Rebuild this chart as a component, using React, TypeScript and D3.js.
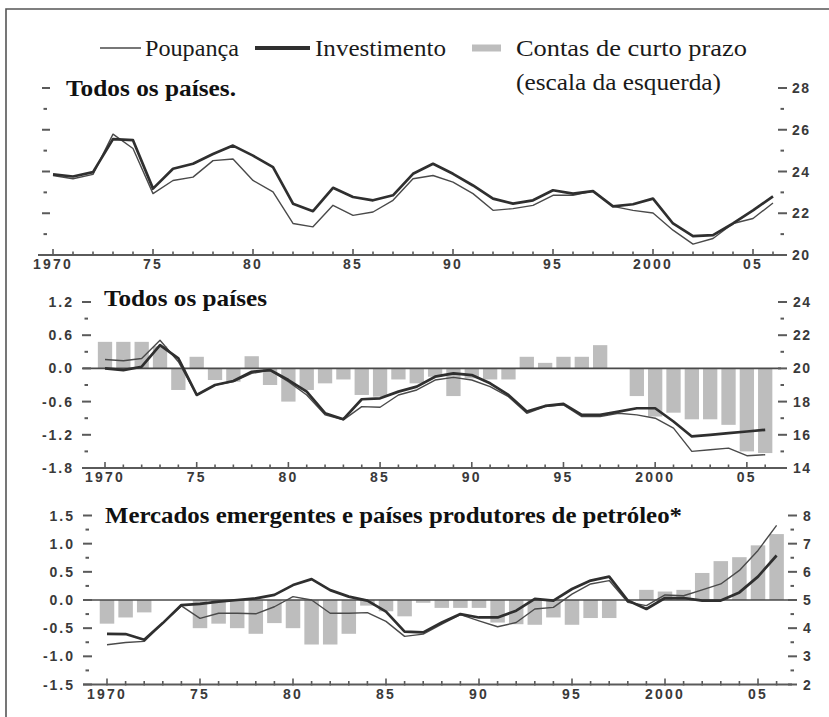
import React from 'react';
import * as d3 from 'd3';

// ---------- data ----------
const years = [1970, 1971, 1972, 1973, 1974, 1975, 1976, 1977, 1978, 1979, 1980, 1981, 1982, 1983, 1984, 1985, 1986, 1987, 1988, 1989, 1990, 1991, 1992, 1993, 1994, 1995, 1996, 1997, 1998, 1999, 2000, 2001, 2002, 2003, 2004, 2005, 2006];
const xTickYears = [1970, 1975, 1980, 1985, 1990, 1995, 2000, 2005];
const xTickLabels = ['1970', '75', '80', '85', '90', '95', '2000', '05'];

// Panel 1: Todos os países. (right scale, % of GDP)
const p1Invest = [23.86, 23.76, 23.97, 25.55, 25.5, 23.18, 24.13, 24.37, 24.84, 25.24, 24.76, 24.21, 22.46, 22.10, 23.22, 22.78, 22.62, 22.86, 23.89, 24.37, 23.89, 23.33, 22.70, 22.46, 22.62, 23.10, 22.94, 23.06, 22.33, 22.43, 22.70, 21.51, 20.90, 20.95, 21.51, 22.14, 22.81];
const p1Saving = [23.81, 23.65, 23.86, 25.79, 25.1, 22.94, 23.57, 23.73, 24.52, 24.60, 23.57, 23.02, 21.51, 21.35, 22.38, 21.90, 22.06, 22.62, 23.65, 23.81, 23.49, 22.94, 22.14, 22.22, 22.38, 22.86, 22.86, 23.06, 22.33, 22.14, 22.01, 21.19, 20.52, 20.79, 21.51, 21.75, 22.49];

// Panel 2: Todos os países (bars left scale, lines right scale)
const p2Bars = [0.48, 0.48, 0.48, 0.40, -0.39, 0.21, -0.21, -0.24, 0.22, -0.30, -0.60, -0.39, -0.27, -0.20, -0.48, -0.51, -0.20, -0.27, -0.15, -0.50, -0.18, -0.20, -0.20, 0.21, 0.10, 0.21, 0.21, 0.42, 0, -0.50, -0.87, -0.80, -0.92, -0.92, -1.02, -1.50, -1.53];
const p2Invest = [20.0, 19.9, 20.1, 21.4, 20.6, 18.4, 19.0, 19.24, 19.8, 19.9, 19.3, 18.6, 17.3, 16.94, 18.14, 18.2, 18.6, 18.9, 19.5, 19.7, 19.6, 19.1, 18.4, 17.4, 17.74, 17.86, 17.2, 17.2, 17.4, 17.6, 17.6, 16.8, 15.9, 16.0, 16.1, 16.2, 16.3];
const p2Saving = [20.54, 20.46, 20.6, 21.7, 20.4, 18.4, 19.0, 19.2, 19.7, 19.9, 19.2, 18.4, 17.2, 16.9, 17.7, 17.66, 18.4, 18.7, 19.3, 19.46, 19.3, 18.9, 18.3, 17.3, 17.7, 17.8, 17.1, 17.1, 17.3, 17.2, 17.0, 16.4, 15.0, 15.1, 15.2, 14.74, 14.8];

// Panel 3: Mercados emergentes e países produtores de petróleo*
const p3Bars = [-0.42, -0.31, -0.22, 0, 0, -0.50, -0.42, -0.50, -0.60, -0.41, -0.50, -0.79, -0.79, -0.60, -0.10, -0.20, -0.29, -0.05, -0.14, -0.14, -0.14, -0.40, -0.43, -0.44, -0.31, -0.44, -0.32, -0.32, 0, 0.18, 0.15, 0.18, 0.48, 0.69, 0.76, 0.97, 1.17];
const p3Invest = [3.80, 3.79, 3.59, 4.18, 4.82, 4.86, 4.94, 5.00, 5.06, 5.18, 5.53, 5.74, 5.35, 5.12, 4.98, 4.59, 3.88, 3.85, 4.2, 4.5, 4.38, 4.38, 4.62, 5.04, 4.98, 5.39, 5.69, 5.83, 4.98, 4.68, 5.07, 5.07, 4.98, 4.98, 5.27, 5.83, 6.58];
const p3Saving = [3.41, 3.49, 3.53, 4.18, 4.79, 4.35, 4.53, 4.53, 4.51, 4.76, 5.12, 5.0, 4.53, 4.53, 4.55, 4.24, 3.71, 3.79, 4.14, 4.48, 4.26, 4.05, 4.2, 4.68, 4.74, 5.21, 5.57, 5.69, 4.92, 4.8, 5.18, 5.15, 5.36, 5.57, 6.05, 6.76, 7.65];

// axis tick labels
const p1RightMajor = [20, 22, 24, 26, 28];
const p1RightLabels = ['20', '22', '24', '26', '28'];
const p2LeftMajor = [-1.8, -1.2, -0.6, 0, 0.6, 1.2];
const p2LeftLabels = ['-1.8', '-1.2', '-0.6', '0.0', '0.6', '1.2'];
const p2RightMajor = [14, 16, 18, 20, 22, 24];
const p2RightLabels = ['14', '16', '18', '20', '22', '24'];
const p3LeftMajor = [-1.5, -1.0, -0.5, 0, 0.5, 1.0, 1.5];
const p3LeftLabels = ['-1.5', '-1.0', '-0.5', '0.0', '0.5', '1.0', '1.5'];
const p3RightMajor = [2, 3, 4, 5, 6, 7, 8];
const p3RightLabels = ['2', '3', '4', '5', '6', '7', '8'];

const titles = ['Todos os países.', 'Todos os países', 'Mercados emergentes e países produtores de petróleo*'];

// ---------- style ----------
const SERIF = '"Liberation Serif", "DejaVu Serif", serif';
const SANS = '"Liberation Sans", Arial, sans-serif';
const AXIS = '#5a5a5a';
const LBL = '#3a3a3a';
const BAR = '#bdbdbd';
const INV = '#2f2f2f';
const SAV = '#4a4a4a';

type Layout = {
  x0: number; x1: number; axisY: number; axisXL: number; axisXR: number;
  yTop: number; rightDomain: [number, number]; leftDomain?: [number, number];
  leftTickX: number; leftLabelX?: number; rightTickX: number; rightLabelX: number;
  xLabelY: number; title: { x: number; y: number; len: number };
  minorRightStep: number; minorLeftStep?: number; zeroXL?: number; zeroXR?: number;
};

function Panel({ L, invest, saving, bars, rMajor, rLabels, lMajor, lLabels, title }: any) {
  const lay: Layout = L;
  const x = d3.scaleLinear().domain([1970, 2006]).range([lay.x0, lay.x1]);
  const yR = d3.scaleLinear().domain(lay.rightDomain).range([lay.axisY, lay.yTop]);
  const yL = lay.leftDomain ? d3.scaleLinear().domain(lay.leftDomain).range([lay.axisY, lay.yTop]) : null;
  const lineGen = d3.line<number>().x((_, i) => x(years[i])).y((v) => yR(v));
  const step = x(1971) - x(1970);
  const bw = step * 0.78;

  const rMinor = d3.range(lay.rightDomain[0], lay.rightDomain[1] + 1e-9, lay.minorRightStep);
  const lMinor = yL && lay.minorLeftStep ? d3.range(lay.leftDomain![0], lay.leftDomain![1] + 1e-9, lay.minorLeftStep) : [];

  return (
    <g>
      {/* bars */}
      {yL && bars && bars.map((v: number, i: number) => (
        v === 0 ? null :
        <rect key={'b' + i} x={x(years[i]) - bw / 2} y={yL(Math.max(0, v))} width={bw}
          height={Math.abs(yL(v) - yL(0))} fill={BAR} />
      ))}
      {/* zero line */}
      {yL && <line x1={lay.zeroXL} x2={lay.zeroXR} y1={yL(0)} y2={yL(0)} stroke="#4a4a4a" strokeWidth={1.6} />}
      {/* x axis */}
      <line x1={lay.axisXL} x2={lay.axisXR} y1={lay.axisY} y2={lay.axisY} stroke={AXIS} strokeWidth={2} />
      {years.map((yr) => {
        const major = xTickYears.includes(yr);
        return <line key={'t' + yr} x1={x(yr)} x2={x(yr)} y1={lay.axisY - (major ? 6 : 3.5)} y2={lay.axisY + 1}
          stroke={AXIS} strokeWidth={1.6} />;
      })}
      {xTickYears.map((yr, i) => (
        <text key={'xl' + yr} x={x(yr)} y={lay.xLabelY} textAnchor="middle" fontFamily={SANS} fontWeight="bold"
          fontSize={14} letterSpacing={2.2} fill={LBL}>{xTickLabels[i]}</text>
      ))}
      {/* right axis */}
      {rMinor.map((v: number) => {
        const major = rMajor.some((m: number) => Math.abs(m - v) < 1e-6);
        return <line key={'rm' + v} x1={lay.rightTickX + (major ? 0 : 2.5)} x2={lay.rightTickX + (major ? 9 : 6)}
          y1={yR(v)} y2={yR(v)} stroke={AXIS} strokeWidth={2} />;
      })}
      {rMajor.map((v: number, i: number) => (
        <text key={'rl' + v} x={lay.rightLabelX} y={yR(v) + 5} fontFamily={SANS} fontWeight="bold" fontSize={14}
          letterSpacing={1.5} fill={LBL}>{rLabels[i]}</text>
      ))}
      {/* left axis */}
      {!yL && rMinor.map((v: number) => {
        const major = Math.round(v) % 2 === 0;
        return <line key={'lm' + v} x1={lay.leftTickX + (major ? 0 : 1.5)} x2={lay.leftTickX + (major ? 8 : 5)}
          y1={yR(v)} y2={yR(v)} stroke={AXIS} strokeWidth={2} />;
      })}
      {yL && lMinor.map((v: number) => {
        const major = lMajor.some((m: number) => Math.abs(m - v) < 1e-6);
        return <line key={'lm' + v} x1={lay.leftTickX + (major ? 0 : 2.5)} x2={lay.leftTickX + (major ? 9 : 6)}
          y1={yL(v)} y2={yL(v)} stroke={AXIS} strokeWidth={2} />;
      })}
      {yL && lMajor.map((v: number, i: number) => (
        <text key={'ll' + v} x={lay.leftLabelX} y={yL(v) + 5} textAnchor="end" fontFamily={SANS} fontWeight="bold"
          fontSize={14} letterSpacing={2} fill={LBL}>{lLabels[i]}</text>
      ))}
      {/* lines */}
      <path d={lineGen(saving) || ''} fill="none" stroke={SAV} strokeWidth={1.4} strokeLinejoin="round" />
      <path d={lineGen(invest) || ''} fill="none" stroke={INV} strokeWidth={2.7} strokeLinejoin="round" />
      {/* title */}
      <text x={lay.title.x} y={lay.title.y} fontFamily={SERIF} fontWeight="bold" fontSize={24}
        textLength={lay.title.len} lengthAdjust="spacingAndGlyphs" fill="#111">{title}</text>
    </g>
  );
}

const L1: Layout = {
  x0: 53, x1: 773, axisY: 255, axisXL: 38, axisXR: 783, yTop: 88, rightDomain: [20, 28],
  leftTickX: 42, rightTickX: 778, rightLabelX: 792, xLabelY: 269,
  title: { x: 66, y: 96, len: 170 }, minorRightStep: 1,
};
const L2: Layout = {
  x0: 105, x1: 765.2, axisY: 468, axisXL: 83, axisXR: 786, yTop: 302, rightDomain: [14, 24], leftDomain: [-1.8, 1.2],
  leftTickX: 82, leftLabelX: 74, rightTickX: 778, rightLabelX: 793, xLabelY: 482,
  title: { x: 104, y: 306, len: 163 }, minorRightStep: 1, minorLeftStep: 0.3, zeroXL: 83, zeroXR: 781,
};
const L3: Layout = {
  x0: 107, x1: 776.6, axisY: 684.5, axisXL: 83, axisXR: 792, yTop: 515.5, rightDomain: [2, 8], leftDomain: [-1.5, 1.5],
  leftTickX: 83, leftLabelX: 75, rightTickX: 788, rightLabelX: 803, xLabelY: 699,
  title: { x: 105, y: 523, len: 577 }, minorRightStep: 0.5, minorLeftStep: 0.25, zeroXL: 83, zeroXR: 790,
};

function Legend() {
  return (
    <g fontFamily={SERIF} fontSize={24} fill="#1a1a1a">
      <line x1={100} x2={141} y1={48} y2={48} stroke={SAV} strokeWidth={1.6} />
      <text x={145} y={56} textLength={94} lengthAdjust="spacingAndGlyphs">Poupança</text>
      <line x1={255} x2={310} y1={48} y2={48} stroke={INV} strokeWidth={4} />
      <text x={315} y={56} textLength={131} lengthAdjust="spacingAndGlyphs">Investimento</text>
      <line x1={472} x2={501} y1={48} y2={48} stroke={BAR} strokeWidth={7} />
      <text x={516} y={56} textLength={231} lengthAdjust="spacingAndGlyphs">Contas de curto prazo</text>
      <text x={516} y={90} textLength={205} lengthAdjust="spacingAndGlyphs">(escala da esquerda)</text>
    </g>
  );
}

export default function App() {
  return (
    <svg width={829} height={717} viewBox="0 0 829 717"
      style={{ position: 'absolute', left: 0, top: 0, background: '#fff', display: 'block' }}>
      <rect x={0} y={0} width={829} height={717} fill="#fff" />
      <path d="M6,717 V9 H829" fill="none" stroke="#555" strokeWidth={1.6} />
      <Legend />
      <Panel L={L1} invest={p1Invest} saving={p1Saving} rMajor={p1RightMajor} rLabels={p1RightLabels} title={titles[0]} />
      <Panel L={L2} invest={p2Invest} saving={p2Saving} bars={p2Bars} rMajor={p2RightMajor} rLabels={p2RightLabels}
        lMajor={p2LeftMajor} lLabels={p2LeftLabels} title={titles[1]} />
      <Panel L={L3} invest={p3Invest} saving={p3Saving} bars={p3Bars} rMajor={p3RightMajor} rLabels={p3RightLabels}
        lMajor={p3LeftMajor} lLabels={p3LeftLabels} title={titles[2]} />
    </svg>
  );
}
